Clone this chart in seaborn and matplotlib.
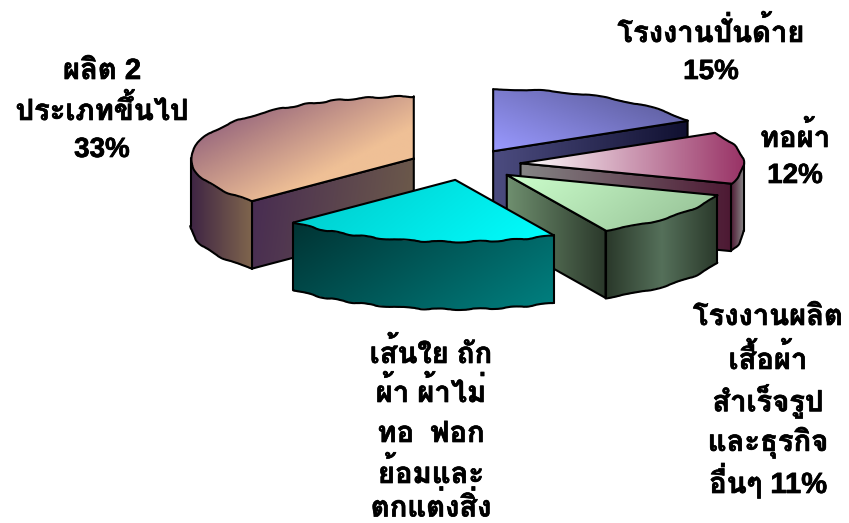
import numpy as np
import matplotlib
matplotlib.use("Agg")
import matplotlib.pyplot as plt
import matplotlib.patheffects as pe
from matplotlib.patches import Polygon
import seaborn as sns

sns.set_theme(style="white")
plt.rcParams['font.family'] = ['Liberation Sans', 'Loma', 'IBM Plex Sans Thai Looped', 'DejaVu Sans']

# ---- data (the slices are drawn in proportion to these)
slice_names = ["โรงงานปั่นด้าย", "ทอผ้า", "โรงงานผลิตเสื้อผ้า", "เส้นใย", "ผลิต 2 ประเภทขึ้นไป"]
slice_values = [15, 12, 11, 18, 33]

# ---- label text, one list per label
label_a = ["โรงงานปั่นด้าย", "15%"]
label_b = ["ทอผ้า", "12%"]
label_c = ["โรงงานผลิต", "เสื้อผ้า", "สำเร็จรูป", "และธุรกิจ", "อื่นๆ 11%"]
label_d = ["เส้นใย ถัก", "ผ้า ผ้าไม่", "ทอ  ฟอก", "ย้อมและ", "ตกแต่งสิ่ง"]
label_e = ["ผลิต 2", "ประเภทขึ้นไป", "33%"]

# ---- styling
W, H = 849, 523
CX, CY, RX, RY = 465.0, 164.6, 223.0, 62.0
DEPTH = 67.5 / RY
EXPLODE = 0.25
LW = 1.5

styles = {
    0: dict(top=(["#9999FF", "#55558F"], (1, -0.8)),
            face=(["#4C4C80", "#101030"], (1, 0))),
    1: dict(top=(["#FFFFFF", "#993366"], (1, 0)),
            face=(["#858585", "#4D1933"], (1, 0)),
            outer=(["#4D1933", "#8A8A8A"], (1, 0))),
    2: dict(top=(["#CCFFCC", "#93BD93"], (1, 0.35)),
            face=(["#6F8F6F", "#2A382A"], (1, 0)),
            outer=(["#2A382A", "#55705A", "#2A382A"], (1, 0))),
    3: dict(top=(["#00C8C8", "#00FFFF"], (1, 0.3)),
            outer=(["#003333", "#008080"], (1, 0.5))),
    4: dict(top=(["#7A4878", "#B58584", "#EFC096", "#EFC096"], (1, 0.9)),
            face=(["#472B52", "#6E5C4A"], (1, 0.1)),
            outer=(["#3F2544", "#80664D"], (1, 0))),
}
order = [0, 4, 1, 2, 3]

fig = plt.figure(figsize=(W / 100, H / 100), dpi=100)
ax = fig.add_axes([0, 0, 1, 1])
wedges, _ = ax.pie(slice_values, explode=[EXPLODE] * len(slice_values), startangle=90,
                   counterclock=False, radius=1, wedgeprops=dict(facecolor="none", edgecolor="none"))


def paint(points, spec, z):
    """Gradient-filled, clipped polygon in data coordinates."""
    colors, (dx, dy) = spec
    pts = np.asarray(points)
    x0, x1, y0, y1 = pts[:, 0].min(), pts[:, 0].max(), pts[:, 1].min(), pts[:, 1].max()
    X, Y = np.meshgrid(np.linspace(0, 1, 200), np.linspace(0, 1, 120))
    t = dx * X + dy * Y
    t = (t - t.min()) / (t.max() - t.min())
    im = ax.imshow(t, extent=(x0, x1, y0, y1), origin="upper", aspect="auto", vmin=0, vmax=1,
                   cmap=sns.blend_palette(colors, as_cmap=True), zorder=z, interpolation="bilinear")
    patch = Polygon(pts, closed=True, facecolor="none", edgecolor="none", zorder=z)
    ax.add_patch(patch)
    im.set_clip_path(patch)


def stroke(points, z, wavy=False):
    pts = np.asarray(points)
    line, = ax.plot(pts[:, 0], pts[:, 1], color="black", lw=LW, zorder=z,
                    solid_capstyle="round", solid_joinstyle="round")
    if wavy:
        line.set_sketch_params(scale=0.7, length=40, randomness=3)


for idx in order:
    w = wedges[idx]
    st = styles[idx]
    c1, c2 = 90 - w.theta2, 90 - w.theta1          # clockwise from 12 o'clock
    cx, cy = w.center
    z = 10 + order.index(idx) * 10

    def rim(a, b):
        ang = np.radians(np.linspace(a, b, max(int(b - a), 2) * 2))
        return np.column_stack([cx + np.sin(ang), cy + np.cos(ang)])

    apex = np.array([cx, cy])
    down = np.array([0, -DEPTH])
    for c, visible in ((c2, 0 < c2 < 180), (c1, 180 < c1 < 360)):
        if visible:
            end = rim(c, c + 1e-6)[0]
            face = [apex, end, end + down, apex + down]
            paint(face, st["face"], z + 1)
            stroke(face + [apex], z + 2)
    a, b = max(c1, 90), min(c2, 270)
    if a < b:
        top_edge = rim(a, b)
        low_edge = top_edge + down
        poly = np.vstack([top_edge, low_edge[::-1]])
        paint(poly, st["outer"], z + 3)
        stroke(low_edge, z + 4, wavy=True)
        stroke([top_edge[0], low_edge[0]], z + 4)
        stroke([top_edge[-1], low_edge[-1]], z + 4)
    arc = rim(c1, c2)
    paint(np.vstack([apex, arc]), st["top"], z + 5)
    stroke(arc, z + 6, wavy=True)
    stroke([arc[0], apex, arc[-1]], z + 6)

ax.set_aspect("auto")
ax.set_xlim(-CX / RX, (W - CX) / RX)
ax.set_ylim((CY - H) / RY, CY / RY)
ax.set_axis_off()


def place(lines, x, ys):
    for line, y in zip(lines, ys):
        digits_only = line.endswith("%") and line[0].isdigit()
        fig.text(x / W, 1 - y / H, line, ha="center", va="center_baseline",
                 fontsize=20 if digits_only else 21, fontweight="bold", color="black",
                 path_effects=[pe.withStroke(linewidth=0.5, foreground="black")])


place(label_a, 711, [30, 69])
place(label_b, 795, [135, 173])
place(label_c, 768, [314, 357, 398, 439, 479])
place(label_d, 431, [351, 390, 431, 471, 505])
place(label_e, 102, [68, 108, 147])

fig.savefig("out.png", dpi=100)
